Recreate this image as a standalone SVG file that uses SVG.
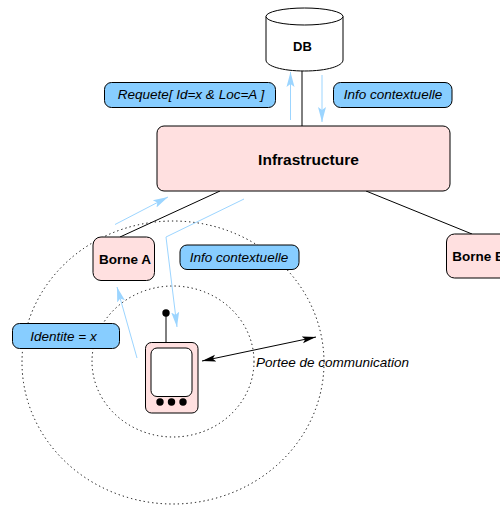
<svg xmlns="http://www.w3.org/2000/svg" width="500" height="506" viewBox="0 0 500 506">
<style>
text{font-family:"Liberation Sans",Arial,sans-serif;fill:#000}
.n{fill:#ffe0e0;stroke:#000;stroke-width:1}
.l{fill:#87cdff;stroke:#000;stroke-width:1}
.b{font-weight:bold;text-anchor:middle}
.i{font-style:italic;font-size:13.500px;text-anchor:middle}
.k{fill:none;stroke:#000;stroke-width:1}
.d{fill:none;stroke:#000;stroke-width:1;stroke-dasharray:1.300 3}
.a{fill:none;stroke:#9cd5ff;stroke-width:1;marker-end:url(#ba)}
</style>
<defs>
<marker id="ba" markerUnits="userSpaceOnUse" markerWidth="16" markerHeight="10" refX="15" refY="5" orient="auto"><path d="M0 1L15 5L0 9L3 5Z" fill="#9cd5ff"/></marker>
<marker id="ka" markerUnits="userSpaceOnUse" markerWidth="15" markerHeight="8" refX="14" refY="4" orient="auto"><path d="M0 .5L14 4L0 7.500L3 4Z" fill="#000"/></marker>
<marker id="kb" markerUnits="userSpaceOnUse" markerWidth="15" markerHeight="8" refX="1" refY="4" orient="auto"><path d="M15 .5L1 4L15 7.500L12 4Z" fill="#000"/></marker>
</defs>
<g id="ranges">
<ellipse class="d" cx="173" cy="362.5" rx="151" ry="141.5"/>
<ellipse class="d" cx="173" cy="361.5" rx="81" ry="75.5"/>
</g>
<g id="connectors">
<path class="k" d="M302 71V126M120 237L220 191M366 191L472 234"/>
<path class="k" d="M202 361L316 337" marker-start="url(#kb)" marker-end="url(#ka)"/>
<path class="a" d="M290.500 120V72"/>
<path class="a" d="M322 75V122"/>
<path class="a" d="M115 224.500L168 197"/>
<path class="a" d="M244 199L166 237L177 327"/>
<path class="a" d="M137 358L117 287"/>
</g>
<g id="db">
<path d="M266 16.500V60C266 66 282 71 304.500 71S343 66 343 60V16.500" fill="#fff" stroke="#000"/>
<ellipse cx="304.500" cy="16.500" rx="38.500" ry="8.500" fill="#fff" stroke="#000"/>
<text class="b" x="302.500" y="51" font-size="13">DB</text>
</g>
<g id="requete"><rect class="l" x="104.500" y="82.500" width="171" height="25" rx="7"/><text class="i" x="191" y="99">Requete[ Id=x &amp; Loc=A ]</text></g>
<g id="info1"><rect class="l" x="333.500" y="82.500" width="118.500" height="25" rx="7"/><text class="i" x="393" y="99">Info contextuelle</text></g>
<g id="infrastructure"><rect class="n" x="157" y="126" width="293" height="65" rx="7"/><text class="b" x="308.500" y="164.500" font-size="15.500">Infrastructure</text></g>
<g id="borne-a"><rect class="n" x="93" y="237" width="61.500" height="43.500" rx="8"/><text class="b" x="125" y="264" font-size="13.500">Borne A</text></g>
<g id="borne-b"><rect class="n" x="446.500" y="234" width="62" height="44" rx="8"/><text class="b" x="478.500" y="261" font-size="13.500">Borne B</text></g>
<g id="info2"><rect class="l" x="180" y="245" width="119" height="24.500" rx="7"/><text class="i" x="239" y="261.500">Info contextuelle</text></g>
<g id="identite"><rect class="l" x="12.500" y="323.500" width="107" height="25" rx="7"/><text class="i" x="63.500" y="340.500">Identite = x</text></g>
<g id="phone">
<path class="k" d="M166 313V343"/>
<circle cx="166" cy="313" r="3.700"/>
<rect class="n" x="145.500" y="342.500" width="52.500" height="70.500" rx="6"/>
<rect x="151" y="348" width="41" height="48.500" rx="6" fill="#fff" stroke="#000"/>
<circle cx="160" cy="402" r="3.700"/><circle cx="171.500" cy="402" r="3.700"/><circle cx="183" cy="402" r="3.700"/>
</g>
<text id="portee" x="256" y="366.500" font-size="13.500" font-style="italic">Portee de communication</text>
</svg>
